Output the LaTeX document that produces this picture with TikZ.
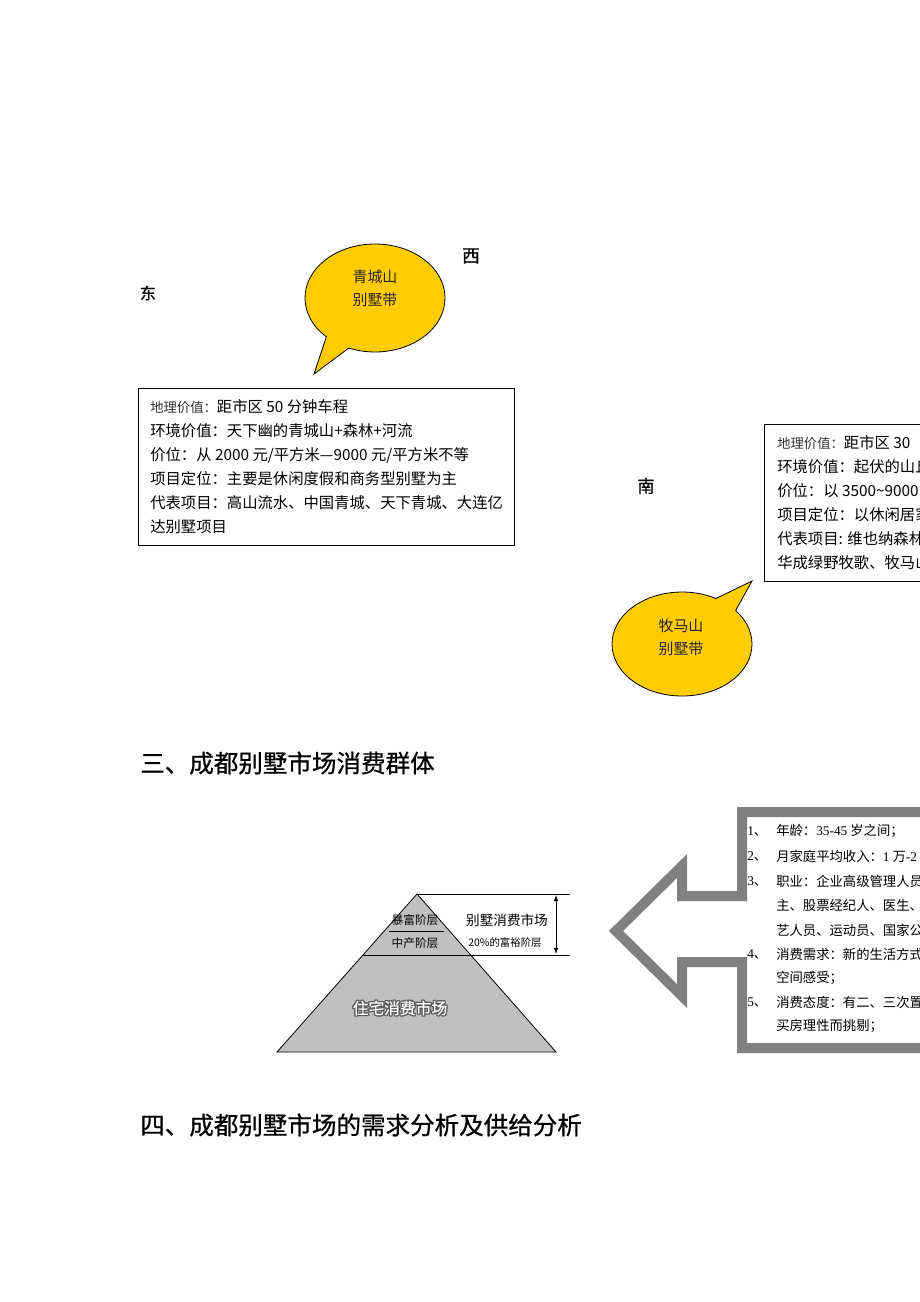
\documentclass[tikz,border=0pt]{standalone}
\usepackage{fontspec}
\setmainfont{Noto Sans CJK SC}
\newfontfamily\romanfont{Liberation Serif}
\newfontfamily\headfont[FakeBold=0.7]{Noto Sans CJK SC}
\usetikzlibrary{arrows}
\definecolor{calloutyellow}{HTML}{FFCC00}
\definecolor{pyramidgray}{HTML}{C0C0C0}
\definecolor{arrowgray}{HTML}{808080}
\tikzset{
  boxtxt/.style={anchor=west,inner sep=0pt,font=\fontsize{11.5}{12}\selectfont},
  listtxt/.style={anchor=west,inner sep=0pt,font=\fontsize{10}{11}\selectfont},
  headtxt/.style={anchor=west,inner sep=0pt,font=\fontsize{18.4}{20}\headfont},
  dirtxt/.style={inner sep=0pt,font=\fontsize{13}{14}\headfont},
  callout/.style={fill=calloutyellow,draw=black,line width=0.6pt},
  callouttxt/.style={inner sep=0pt,text=black!85,font=\fontsize{11.2}{12}\selectfont},
}
\newcommand{\smallhead}[1]{{\fontsize{10}{10}\selectfont\color{black!80}#1}}
\begin{document}
\begin{tikzpicture}[x=0.75pt,y=-0.75pt]
        \tikzset{>=latex}
        \useasboundingbox (0,0) rectangle (920,1302);
        % directions
        \node[dirtxt,font=\fontsize{12}{13}\headfont] (dong) at (148,293) {东};
        \node[dirtxt,font=\fontsize{13.5}{14}\headfont] (xi) at (471,256) {西};
        \node[dirtxt] (nan) at (646,486) {南};
        % Qingcheng callout
        \coordinate (qcc) at (375,298);
        \coordinate (qctip) at (314,374);
        \draw[callout] ([shift={(qcc)}]134:70 and 54) arc[start angle=134, end angle=472, x radius=70, y radius=54] -- (qctip) -- cycle;
        \node[callouttxt] (qcname) at (375,277) {青城山};
        \node[callouttxt] (qcband) at (375,300) {别墅带};
        % Qingcheng box
        \draw[line width=0.6pt] (138,388) rectangle (514,545);
        \node[boxtxt] (qc1) at (150,407) {\smallhead{地理价值：}距市区 50 分钟车程};
        \node[boxtxt] (qc2) at (150,431) {环境价值：天下幽的青城山+森林+河流};
        \node[boxtxt] (qc3) at (150,455) {价位：从 2000 元/平方米—9000 元/平方米不等};
        \node[boxtxt] (qc4) at (150,479) {项目定位：主要是休闲度假和商务型别墅为主};
        \node[boxtxt] (qc5) at (150,503) {代表项目：高山流水、中国青城、天下青城、大连亿};
        \node[boxtxt] (qc6) at (150,527) {达别墅项目};
        % Muma callout
        \coordinate (mmc) at (682,644);
        \coordinate (mmtip) at (752,581);
        \draw[callout] ([shift={(mmc)}]-40:70 and 52) arc[start angle=-40, end angle=299, x radius=70, y radius=52] -- (mmtip) -- cycle;
        \node[callouttxt] (mmname) at (681,626) {牧马山};
        \node[callouttxt] (mmband) at (681,649) {别墅带};
        \begin{scope}
        \clip (0,0) rectangle (920,1302);
        % Muma box (runs past the page edge)
        \draw[line width=0.6pt] (764,424) rectangle (940,581);
        \node[boxtxt] (mm1) at (777,443) {\smallhead{地理价值：}距市区 30};
        \node[boxtxt] (mm2) at (777,467) {环境价值：起伏的山丘};
        \node[boxtxt] (mm3) at (777,491) {价位：以 3500\textasciitilde 9000};
        \node[boxtxt] (mm4) at (777,515) {项目定位：以休闲居家};
        \node[boxtxt] (mm5) at (777,539) {代表项目: 维也纳森林};
        \node[boxtxt] (mm6) at (777,563) {华成绿野牧歌、牧马山};
        % consumer arrow box
        \draw[arrowgray,line width=7.5pt,miter limit=10] (935,812) -- (742,812) -- (742,896) -- (682,896) -- (682,866)
          -- (616,931) -- (682,996) -- (682,962) -- (742,962) -- (742,1048) -- (935,1048);
        \node[listtxt] (n1) at (747,831) {{\romanfont 1}、};
        \node[listtxt] (l1) at (776,831) {年龄：{\romanfont 35-45} 岁之间；};
        \node[listtxt] (n2) at (747,856) {{\romanfont 2}、};
        \node[listtxt] (l2) at (776,856) {月家庭平均收入：{\romanfont 1} 万{\romanfont -2}};
        \node[listtxt] (n3) at (747,881) {{\romanfont 3}、};
        \node[listtxt] (l3) at (776,881) {职业：企业高级管理人员};
        \node[listtxt] (l3b) at (776,905) {主、股票经纪人、医生、};
        \node[listtxt] (l3c) at (776,930) {艺人员、运动员、国家公};
        \node[listtxt] (n4) at (747,954) {{\romanfont 4}、};
        \node[listtxt] (l4) at (776,954) {消费需求：新的生活方式};
        \node[listtxt] (l4b) at (776,978) {空间感受；};
        \node[listtxt] (n5) at (747,1002) {{\romanfont 5}、};
        \node[listtxt] (l5) at (776,1002) {消费态度：有二、三次置};
        \node[listtxt] (l5b) at (776,1026) {买房理性而挑剔；};
        \end{scope}
        % headings
        \node[headtxt] (h3) at (140,763) {三、成都别墅市场消费群体};
        \node[headtxt] (h4) at (140,1125) {四、成都别墅市场的需求分析及供给分析};
        % pyramid
        \coordinate (apex) at (417,894);
        \coordinate (bl) at (277,1052);
        \coordinate (br) at (556,1052);
        \filldraw[fill=pyramidgray,draw=black,line width=0.6pt] (apex) -- (bl) -- (br) -- cycle;
        \coordinate (topend) at (570,894);
        \coordinate (midl) at (362,955);
        \coordinate (midend) at (570,955);
        \draw[line width=0.6pt] (apex) -- (topend);
        \draw[line width=0.6pt] (midl) -- (midend);
        \draw[line width=0.6pt] (389,931) -- (444,931);
        \draw[<->,line width=0.6pt] (556,895) -- (556,954);
        \node[inner sep=0pt,font=\fontsize{8.8}{9}\selectfont] (baofu) at (415,920) {暴富阶层};
        \node[inner sep=0pt,font=\fontsize{8.8}{9}\selectfont] (zhongchan) at (415,943) {中产阶层};
        \node[inner sep=0pt,font=\fontsize{10.2}{11}\selectfont] (villa) at (507,920) {别墅消费市场};
        \node[inner sep=0pt,font=\fontsize{7.8}{8}\selectfont] (rich) at (505,943) {20\%的富裕阶层};
        \foreach \dx/\dy [count=\i] in {1.2/0,-1.2/0,0/1.2,0/-1.2,1/1,1/-1,-1/1,-1/-1}
          \node[inner sep=0pt,text=black!65,font=\fontsize{11.8}{12}\headfont] (zzo\i) at ([shift={(\dx,\dy)}]400,1008) {住宅消费市场};
        \node[inner sep=0pt,text=white,font=\fontsize{11.8}{12}\headfont] (zz) at (400,1008) {住宅消费市场};
    \end{tikzpicture}
\end{document}
